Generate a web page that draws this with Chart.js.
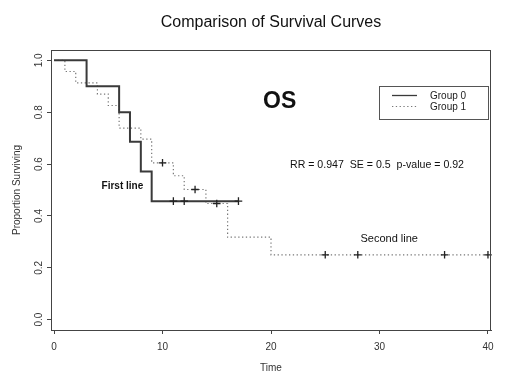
<!DOCTYPE html>
<html>
<head>
<meta charset="utf-8">
<script src="https://cdn.jsdelivr.net/npm/chart.js@4.4.0/dist/chart.umd.min.js"></script>
<style>
	body { margin: 0; background: #fff; }
	#wrap { width: 520px; height: 390px; }
</style>
</head>
<body>
<div id="wrap"><canvas id="chart-survival" width="520" height="390"></canvas></div>
<script>
// Kaplan-Meier steps (time, proportion surviving)
const GROUP0_TIME = [0, 3, 6, 7, 8, 9, 17];
const GROUP0_SURV = [1, 0.9, 0.8, 0.686, 0.571, 0.457, 0.457];
const GROUP0_CENSOR = [11, 12, 17];

const GROUP1_TIME = [0, 1, 2, 4, 5, 6, 8, 9, 11, 12, 14, 16, 20, 40];
const GROUP1_SURV = [1, 0.957, 0.913, 0.87, 0.826, 0.739, 0.696, 0.605, 0.555, 0.502, 0.448, 0.318, 0.25, 0.25];
const GROUP1_CENSOR = [10, 13, 15, 25, 28, 36, 40];

const X_TICKS = [0, 10, 20, 30, 40];
const Y_TICKS = [0, 0.2, 0.4, 0.6, 0.8, 1.0];

const FONT = "'Liberation Sans', Arial, sans-serif";
const AXIS_COLOR = "#444";

const toPoints = (times, surv) => times.map((t, i) => ({ x: t, y: surv[i] }));

// survival value at time t for a step curve
const survAt = (times, surv, t) => {
	let v = surv[0];
	times.forEach((tt, i) => {
		if (tt <= t) v = surv[i];
	});
	return v;
};

const censorPoints = (censor, times, surv) => censor.map((t) => ({ x: t, y: survAt(times, surv, t) }));

const CROSS = {
	showLine: false,
	pointStyle: "cross",
	pointRadius: 3.8,
	pointBorderWidth: 1.3,
	borderColor: "#222",
	backgroundColor: "#222",
	clip: false,
};

// ----------------------------------------------
// Box, rotated y labels, notes and legend (R style)
// ----------------------------------------------
const rExtras = {
	id: "rExtras",
	afterDraw(chart) {
		const { ctx, chartArea: a, scales } = chart;
		const x = scales.x;
		const y = scales.y;
		ctx.save();

		ctx.strokeStyle = AXIS_COLOR;
		ctx.lineWidth = 1;
		ctx.strokeRect(a.left + 0.5, a.top + 0.5, a.right - a.left - 1, a.bottom - a.top);

		ctx.fillStyle = "#333";
		ctx.font = `10px ${FONT}`;
		ctx.textAlign = "center";
		ctx.textBaseline = "middle";
		y.ticks.forEach((tick) => {
			ctx.save();
			ctx.translate(a.left - 12, y.getPixelForValue(tick.value));
			ctx.rotate(-Math.PI / 2);
			ctx.fillText(tick.value.toFixed(1), 0, 0);
			ctx.restore();
		});

		const note = (text, tx, ty, font, align) => {
			ctx.font = font;
			ctx.textAlign = align;
			ctx.fillStyle = "#111";
			ctx.fillText(text, x.getPixelForValue(tx), y.getPixelForValue(ty));
		};
		note("OS", 20.8, 0.842, `bold 23px ${FONT}`, "center");
		note("RR = 0.947  SE = 0.5  p-value = 0.92", 21.75, 0.595, `10.6px ${FONT}`, "left");
		note("First line", 6.3, 0.514, `bold 10px ${FONT}`, "center");
		note("Second line", 30.9, 0.313, `11px ${FONT}`, "center");

		// legend
		const lx = a.right - 112;
		const ly = a.top + 36;
		ctx.strokeStyle = "#555";
		ctx.lineWidth = 1;
		ctx.strokeRect(lx + 0.5, ly + 0.5, 109, 33);
		const rows = [chart.data.datasets[2], chart.data.datasets[3]];
		rows.forEach((ds, i) => {
			const ry = ly + 9.5 + i * 11;
			ctx.save();
			ctx.strokeStyle = ds.borderColor;
			ctx.lineWidth = ds.legendWidth;
			ctx.setLineDash(ds.borderDash || []);
			ctx.beginPath();
			ctx.moveTo(lx + 13, ry);
			ctx.lineTo(lx + 38, ry);
			ctx.stroke();
			ctx.restore();
			ctx.font = `10px ${FONT}`;
			ctx.textAlign = "left";
			ctx.fillStyle = "#222";
			ctx.fillText(ds.label, lx + 51, ry + 1);
		});

		ctx.restore();
	},
};

const CHART_DATA = {
	datasets: [
		{ ...CROSS, label: "censor0", data: censorPoints(GROUP0_CENSOR, GROUP0_TIME, GROUP0_SURV) },
		{ ...CROSS, label: "censor1", data: censorPoints(GROUP1_CENSOR, GROUP1_TIME, GROUP1_SURV) },
		{
			label: "Group 0",
			data: toPoints(GROUP0_TIME, GROUP0_SURV),
			showLine: true,
			stepped: true,
			borderColor: "#3a3a3a",
			borderWidth: 2,
			legendWidth: 1.3,
			pointRadius: 0,
		},
		{
			label: "Group 1",
			data: toPoints(GROUP1_TIME, GROUP1_SURV),
			showLine: true,
			stepped: true,
			borderColor: "#777",
			borderWidth: 1.2,
			legendWidth: 1,
			borderDash: [1.3, 2.5],
			pointRadius: 0,
		},
	],
};

const CHART_CONFIG = {
	type: "scatter",
	data: CHART_DATA,
	options: {
		responsive: false,
		animation: false,
		devicePixelRatio: 1,
		layout: {
			padding: { top: 0, right: 29, bottom: 0, left: 0 },
		},
		plugins: {
			legend: { display: false },
			tooltip: { enabled: false },
			title: {
				display: true,
				text: "Comparison of Survival Curves",
				fullSize: false,
				color: "#111",
				font: { family: FONT, size: 16, weight: "normal" },
				padding: { top: 12.9, bottom: 17.9 },
			},
		},
		scales: {
			x: {
				type: "linear",
				min: -0.28,
				max: 40.28,
				afterBuildTicks: (scale) => {
					scale.ticks = X_TICKS.map((v) => ({ value: v }));
				},
				afterFit: (scale) => {
					scale.height = 60;
				},
				border: { display: true, color: AXIS_COLOR, width: 1 },
				grid: { drawOnChartArea: false, drawTicks: true, tickLength: 4, color: AXIS_COLOR },
				ticks: {
					color: "#333",
					font: { family: FONT, size: 10 },
					padding: 7,
					maxRotation: 0,
				},
				title: {
					display: true,
					text: "Time",
					color: "#333",
					font: { family: FONT, size: 10 },
					padding: { top: 0, bottom: 16 },
				},
			},
			y: {
				type: "linear",
				min: -0.04,
				max: 1.04,
				afterBuildTicks: (scale) => {
					scale.ticks = Y_TICKS.map((v) => ({ value: v }));
				},
				afterFit: (scale) => {
					scale.width = 51;
				},
				border: { display: true, color: AXIS_COLOR, width: 1 },
				grid: { drawOnChartArea: false, drawTicks: true, tickLength: 4, color: AXIS_COLOR },
				ticks: { display: false },
				title: {
					display: true,
					text: "Proportion Surviving",
					color: "#333",
					font: { family: FONT, size: 10 },
					padding: { top: 11, bottom: 0 },
				},
			},
		},
	},
	plugins: [rExtras],
};

const CHART_WRAPPER = document.getElementById("chart-survival");
if (CHART_WRAPPER) {
	new Chart(CHART_WRAPPER, CHART_CONFIG);
}
</script>
</body>
</html>
